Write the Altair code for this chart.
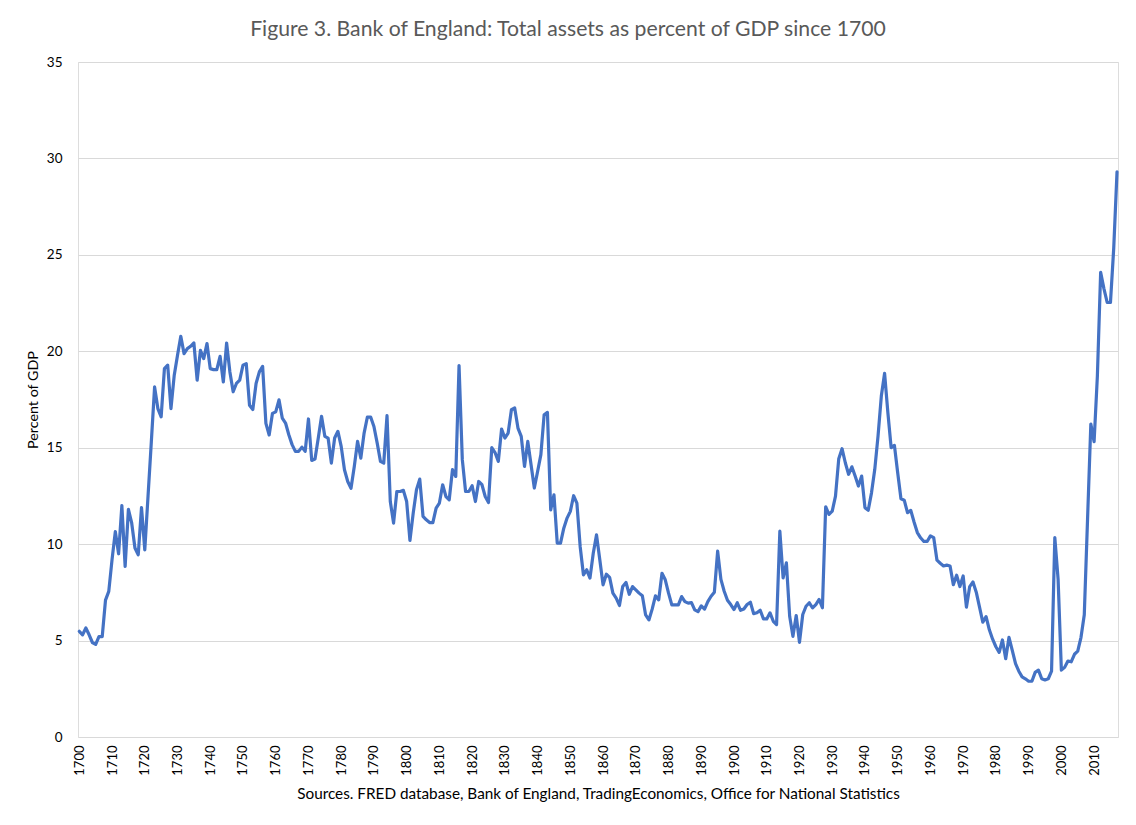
import altair as alt
import pandas as pd

years = list(range(1700, 2018))
values = [
    5.48, 5.3, 5.65, 5.3, 4.9, 4.8, 5.2, 5.2, 7.1, 7.55,
    9.2, 10.65, 9.5, 12.0, 8.85, 11.8, 11.1, 9.8, 9.45, 11.9,
    9.7, 12.5, 15.3, 18.15, 17.03, 16.6, 19.1, 19.28, 17.03, 18.76,
    19.8, 20.78, 19.88, 20.14, 20.26, 20.43, 18.5, 20.05, 19.62, 20.4,
    19.1, 19.05, 19.05, 19.74, 18.41, 20.43, 18.93, 17.9, 18.33, 18.5,
    19.28, 19.36, 17.2, 16.98, 18.33, 18.93, 19.22, 16.26, 15.66, 16.78,
    16.86, 17.48, 16.54, 16.28, 15.67, 15.16, 14.81, 14.81, 15.03, 14.81,
    16.49, 14.34, 14.41, 15.5, 16.63, 15.59, 15.5, 14.2, 15.5, 15.85,
    15.07, 13.86, 13.25, 12.9, 14.03, 15.33, 14.46, 15.76, 16.59, 16.59,
    16.1, 15.24, 14.29, 14.2, 16.66, 12.21, 11.09, 12.73, 12.73, 12.79,
    12.21, 10.19, 11.61, 12.82, 13.37, 11.44, 11.26, 11.12, 11.12, 11.87,
    12.13, 13.08, 12.47, 12.3, 13.86, 13.51, 19.26, 14.38, 12.73, 12.73,
    13.03, 12.21, 13.25, 13.08, 12.47, 12.16, 15.0, 14.75, 14.29, 15.97,
    15.5, 15.76, 16.97, 17.06, 16.02, 15.59, 14.03, 15.33, 14.12, 12.91,
    13.77, 14.64, 16.71, 16.83, 11.78, 12.56, 10.05, 10.05, 10.83, 11.35,
    11.7, 12.51, 12.13, 9.88, 8.41, 8.67, 8.24, 9.53, 10.48, 9.19,
    7.89, 8.44, 8.28, 7.46, 7.2, 6.82, 7.8, 8.01, 7.4, 7.8,
    7.63, 7.46, 7.32, 6.33, 6.07, 6.63, 7.32, 7.11, 8.49, 8.15,
    7.46, 6.85, 6.85, 6.85, 7.28, 7.02, 6.94, 6.97, 6.59, 6.5,
    6.8, 6.63, 7.02, 7.3, 7.51, 9.64, 8.17, 7.56, 7.09, 6.87,
    6.61, 6.96, 6.57, 6.64, 6.87, 6.99, 6.4, 6.44, 6.57, 6.12,
    6.12, 6.44, 6.0, 5.83, 10.67, 8.25, 9.03, 6.26, 5.22, 6.3,
    4.91, 6.35, 6.78, 6.96, 6.7, 6.87, 7.13, 6.7, 11.94, 11.54,
    11.71, 12.49, 14.43, 14.95, 14.22, 13.62, 14.01, 13.53, 13.01, 13.53,
    11.89, 11.76, 12.66, 13.88, 15.61, 17.68, 18.86, 16.82, 15.0, 15.12,
    13.7, 12.35, 12.28, 11.63, 11.75, 11.15, 10.6, 10.33, 10.14, 10.14,
    10.43, 10.34, 9.17, 9.01, 8.87, 8.91, 8.87, 7.9, 8.39, 7.8,
    8.35, 6.73, 7.8, 8.04, 7.51, 6.73, 5.95, 6.24, 5.56, 5.07,
    4.68, 4.39, 5.03, 4.06, 5.17, 4.49, 3.8, 3.41, 3.12, 3.02,
    2.89, 2.89, 3.35, 3.47, 3.02, 2.96, 3.02, 3.41, 10.34, 8.19,
    3.47, 3.61, 3.94, 3.9, 4.29, 4.45, 5.17, 6.34, 11.3, 16.23,
    15.31, 18.72, 24.09, 23.25, 22.53, 22.53, 25.36, 29.3,
]
x_ticks = list(range(1700, 2011, 10))
y_ticks = [0, 5, 10, 15, 20, 25, 30, 35]

title_text = "Figure 3. Bank of England: Total assets as percent of GDP since 1700"
x_title = "Sources. FRED database, Bank of England, TradingEconomics, Office for National Statistics"
y_title = "Percent of GDP"

df = pd.DataFrame({"year": years, "value": values})

FONT = "Lato"
TXT = "#595959"
W, H = 1040, 675

line = alt.Chart(df).mark_line(
    color="#4472C4", strokeWidth=3.2, strokeJoin="round", strokeCap="round"
).encode(
    x=alt.X("year:Q",
            scale=alt.Scale(domain=[1699.6, 2017.3], nice=False, zero=False),
            axis=alt.Axis(values=x_ticks, format="d", labelAngle=270,
                          labelPadding=8, tickSize=0, ticks=False, domain=False,
                          grid=False, title=x_title, titlePadding=11,
                          labelFontSize=13, titleFontSize=15.3,
                          labelFont=FONT, titleFont=FONT,
                          titleFontWeight="normal")),
    y=alt.Y("value:Q",
            scale=alt.Scale(domain=[0, 35], nice=False),
            axis=alt.Axis(values=y_ticks, tickSize=0, ticks=False, domain=False,
                          labelPadding=16, gridColor="#D9D9D9", gridWidth=1,
                          title=y_title, titlePadding=6,
                          labelFontSize=13.5, titleFontSize=14.3,
                          labelFont=FONT, titleFont=FONT,
                          titleFontWeight="normal")),
)

chart = line.properties(
    width=W, height=H,
    title=alt.TitleParams(title_text, fontSize=21.2, font=FONT, color=TXT,
                          fontWeight="normal", anchor="middle", dx=-30, offset=15),
    autosize=alt.AutoSizeParams(type="none"),
    padding={"left": 70, "top": 54, "right": 6, "bottom": 70},
).configure_view(stroke=None).configure_axis(
    labelColor=TXT, titleColor=TXT,
).configure(background="white")

chart.save("out.html", embed_options={"renderer": "svg", "actions": False})
